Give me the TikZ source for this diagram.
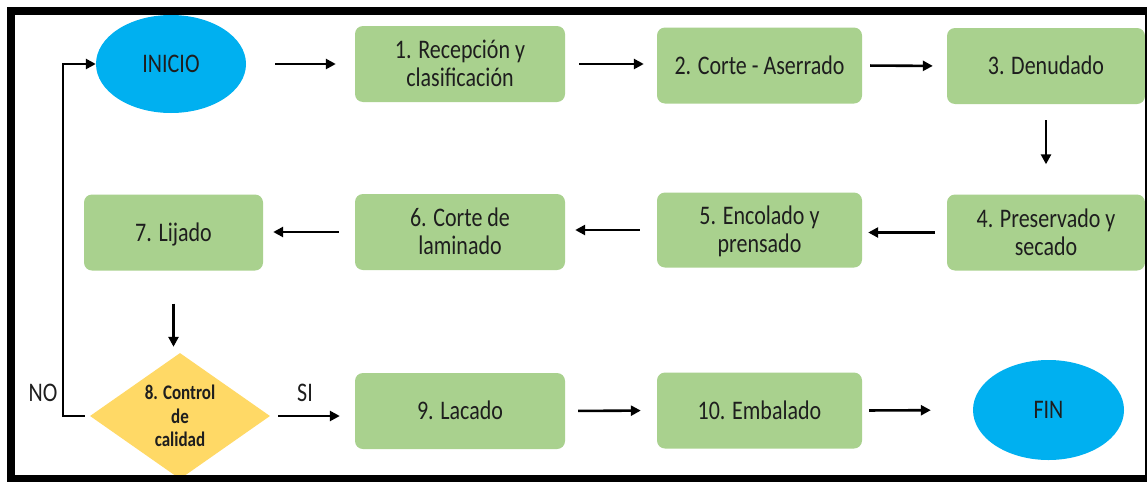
\documentclass[tikz,border=0pt]{standalone}
\usepackage{graphicx}
\usepackage{fontspec}
\setmainfont{Carlito}
\usetikzlibrary{shapes.geometric,arrows.meta}
\definecolor{boxgreen}{HTML}{A9D18E}
\definecolor{ovalcyan}{HTML}{00B0F0}
\definecolor{diayellow}{HTML}{FFD966}
\definecolor{txt}{HTML}{1E1E1E}
\newcommand\sttxt[1]{\scalebox{1}[1.22]{\raisebox{-2.4pt}[\height][\depth]{\begin{tabular}{@{}c@{}}#1\end{tabular}}}}
\tikzset{
  stepbox/.style={fill=boxgreen, rounded corners=8pt, inner sep=0pt, text=txt,
    font=\fontsize{22}{23}\selectfont},
  oval/.style={ellipse, fill=ovalcyan, inner sep=0pt, minimum width=150pt, minimum height=98pt,
    text=txt, font=\fontsize{22}{23}\selectfont},
  decis/.style={diamond, aspect=1.43, fill=diayellow, inner sep=0pt, minimum width=180pt,
    minimum height=126pt, text=txt, font=\bfseries\fontsize{17}{19.5}\selectfont},
  lbl/.style={text=txt, inner sep=0pt, font=\fontsize{22}{23}\selectfont},
  arr/.style={line width=2.6pt, -{Triangle[length=10pt,width=10pt]}, draw=black}
}
\begin{document}
\begin{tikzpicture}[x=1pt,y=-1pt]
\useasboundingbox (0,0) rectangle (1147,482);
\fill[white] (0,0) rectangle (1147,482);
% nodes
\node[oval] (inicio) at (171,64) {\sttxt{INICIO}};
\node[stepbox, minimum width=210pt, minimum height=76pt] (b1) at (460,64) {\sttxt{1. Recepción y\\clasificación}};
\node[stepbox, minimum width=205pt, minimum height=76pt] (b2) at (759.5,65.5) {\sttxt{2. Corte - Aserrado}};
\node[stepbox, minimum width=198pt, minimum height=76pt] (b3) at (1046,66) {\sttxt{3. Denudado}};
\node[stepbox, minimum width=198pt, minimum height=76pt] (b4) at (1046,232.5) {\sttxt{4. Preservado y\\secado}};
\node[stepbox, minimum width=205pt, minimum height=75pt] (b5) at (759.5,230) {\sttxt{5. Encolado y\\prensado}};
\node[stepbox, minimum width=210pt, minimum height=76pt] (b6) at (460,232) {\sttxt{6. Corte de\\laminado}};
\node[stepbox, minimum width=179pt, minimum height=76pt] (b7) at (173.5,232.5) {\sttxt{7. Lijado}};
\node[decis] (q) at (180,416) {\scalebox{1}[1.22]{\raisebox{-2pt}[\height][\depth]{\begin{tabular}{@{}c@{}}8. Control\\de\\calidad\end{tabular}}}};
\node[stepbox, minimum width=210pt, minimum height=76pt] (b9) at (460,411) {\sttxt{9. Lacado}};
\node[stepbox, minimum width=205pt, minimum height=76pt] (b10) at (759.5,410.5) {\sttxt{10. Embalado}};
\node[oval, minimum height=100pt, minimum width=151pt] (fin) at (1048.5,410) {\sttxt{FIN}};
\node[lbl] (no) at (43,393) {\scalebox{1}[1.22]{NO}};
\node[lbl] (si) at (305,393) {\scalebox{1}[1.22]{SI}};
\coordinate (nox) at (63,240);
% connectors
\draw[arr, shorten <=29pt, shorten >=19pt] (inicio.east) -- (inicio.east -| b1.west);
\draw[arr, shorten <=14pt, shorten >=13pt] (b1.east) -- (b1.east -| b2.west);
\draw[arr, shorten <=8pt, shorten >=14pt] (b2.east) -- (b3.west);
\draw[arr, shorten <=16pt, shorten >=30pt] (b3.south) -- (b4.north);
\draw[arr, shorten <=12pt, shorten >=6pt] (b4.west) -- (b4.west -| b5.east);
\draw[arr, shorten <=17pt, shorten >=10pt] (b5.west) -- (b5.west -| b6.east);
\draw[arr, shorten <=16pt, shorten >=10pt] (b6.west) -- (b6.west -| b7.east);
\draw[arr, shorten <=33pt, shorten >=6pt] (b7.south) -- (b7.south |- q.north);
\draw[arr, shorten <=8pt, shorten >=15pt] (q.east) -- (q.east -| b9.west);
\draw[arr, shorten <=13pt, shorten >=16pt] (b9.east) -- (b10.west);
\draw[arr, shorten <=7pt, shorten >=42pt] (b10.east) -- (fin.west);
\draw[arr, shorten <=5pt] (q.west) -| (nox) |- (inicio.west);
% frame
\fill[black] (7,7) rectangle (1147,15);
\fill[black] (7,7) rectangle (15,482);
\fill[black] (7,475) rectangle (1147,482);
\fill[black] (1145,7) rectangle (1147,482);
\end{tikzpicture}
\end{document}
